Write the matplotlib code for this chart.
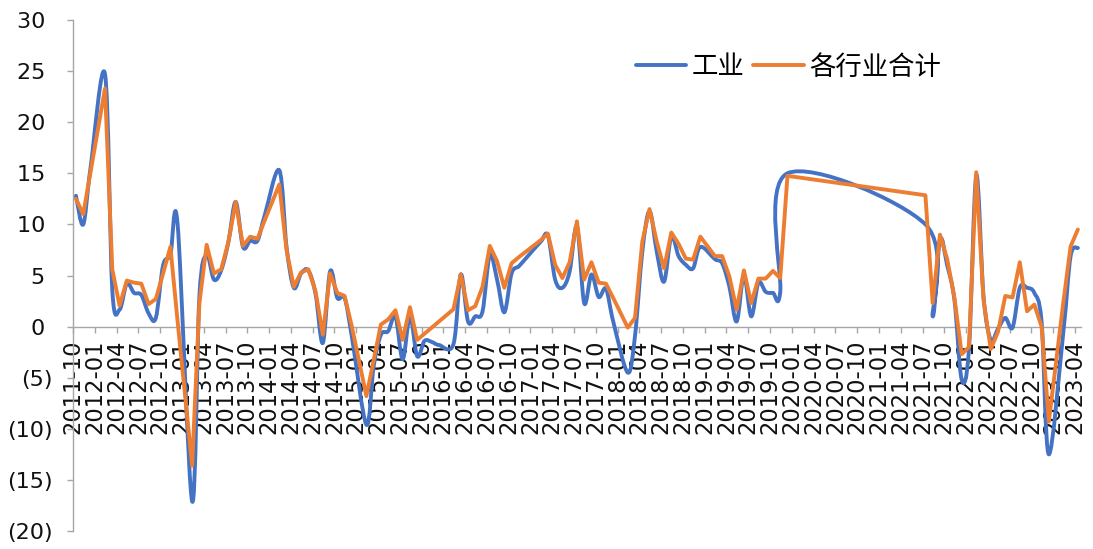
import numpy as np
import matplotlib
matplotlib.use("Agg")
import matplotlib.pyplot as plt
from matplotlib.path import Path
from matplotlib.patches import PathPatch
from matplotlib.lines import Line2D
from matplotlib.ticker import FixedLocator, FuncFormatter

# Reporting months (January is folded into February; 2020-01..2021-06 not reported)
months = [
    "2011-10", "2011-11", "2011-12", "2012-02", "2012-03", "2012-04", "2012-05", "2012-06",
    "2012-07", "2012-08", "2012-09", "2012-10", "2012-11", "2012-12", "2013-02", "2013-03",
    "2013-04", "2013-05", "2013-06", "2013-07", "2013-08", "2013-09", "2013-10", "2013-11",
    "2013-12", "2014-02", "2014-03", "2014-04", "2014-05", "2014-06", "2014-07", "2014-08",
    "2014-09", "2014-10", "2014-11", "2014-12", "2015-02", "2015-03", "2015-04", "2015-05",
    "2015-06", "2015-07", "2015-08", "2015-09", "2015-10", "2015-11", "2015-12", "2016-02",
    "2016-03", "2016-04", "2016-05", "2016-06", "2016-07", "2016-08", "2016-09", "2016-10",
    "2016-11", "2016-12", "2017-02", "2017-03", "2017-04", "2017-05", "2017-06", "2017-07",
    "2017-08", "2017-09", "2017-10", "2017-11", "2017-12", "2018-02", "2018-03", "2018-04",
    "2018-05", "2018-06", "2018-07", "2018-08", "2018-09", "2018-10", "2018-11", "2018-12",
    "2019-02", "2019-03", "2019-04", "2019-05", "2019-06", "2019-07", "2019-08", "2019-09",
    "2019-10", "2019-11", "2019-12", "2021-07", "2021-08", "2021-09", "2021-10", "2021-11",
    "2021-12", "2022-01", "2022-02", "2022-03", "2022-04", "2022-05", "2022-06", "2022-07",
    "2022-08", "2022-09", "2022-10", "2022-11", "2022-12", "2023-02", "2023-03", "2023-04",
]

industry = [
    12.8, 10.0, 15.5, 24.7, 3.6, 1.65, 4.2, 3.3,
    3.1, 1.3, 0.85, 6.0, 7.0, 10.0, -17.1, 3.0,
    7.0, 4.6, 5.5, 8.3, 12.2, 7.8, 8.4, 8.4,
    10.9, 15.3, 7.8, 3.8, 5.2, 5.5, 3.2, -1.6,
    5.4, 2.8, 2.8, -1.0, -9.6, -3.9, -0.8, -0.45,
    1.0, -3.2, 1.0, -2.9, -1.4, -1.5, -1.8, -1.7,
    5.1, 0.5, 1.0, 1.5, 7.0, 4.6, 1.4, 5.2,
    5.9, 6.7, 8.3, 8.9, 4.6, 3.8, 5.4, 9.8,
    2.3, 5.1, 2.9, 3.7, 0.5, -4.5, -0.9, 7.3,
    11.3, 7.3, 4.4, 8.8, 6.9, 6.05, 5.7, 7.8,
    6.6, 6.2, 3.9, 0.5, 5.0, 1.0, 4.3, 3.4,
    3.3, 3.35, 15.0, 10.0, 1.0, 8.5, 6.0, 2.6,
    -5.2, -2.2, 14.8, 3.0, -1.3, -0.2, 0.85, -0.1,
    3.8, 3.8, 3.3, 0.5, -12.5, -0.5, 6.9, 7.7,
]

all_sectors = [
    12.5, 11.0, 15.1, 23.3, 5.6, 2.05, 4.5, 4.3,
    4.2, 2.2, 2.7, 5.2, 7.8, 0.5, -13.6, 2.3,
    8.0, 5.2, 5.6, 8.3, 12.2, 7.9, 8.8, 8.6,
    10.4, 13.9, 7.5, 3.9, 5.3, 5.6, 3.45, -0.8,
    5.2, 3.3, 3.0, 0.0, -6.8, -3.3, 0.2, 0.7,
    1.6, -1.3, 1.9, -1.3, -0.7, -0.1, 0.5, 1.7,
    5.1, 1.6, 2.0, 3.9, 7.9, 6.4, 3.8, 6.2,
    6.8, 7.35, 8.45, 9.1, 6.05, 4.75, 6.3, 10.3,
    4.6, 6.3, 4.3, 4.2, 2.8, -0.1, 0.85, 8.3,
    11.5, 8.3, 5.7, 9.2, 8.1, 6.65, 6.55, 8.8,
    6.9, 6.9, 4.9, 1.65, 5.5, 2.3, 4.7, 4.7,
    5.45, 4.75, 14.75, 12.85, 2.3, 9.0, 6.6, 2.8,
    -2.7, -2.0, 15.1, 2.6, -2.2, -0.5, 3.0, 2.85,
    6.3, 1.5, 2.15, 0.0, -9.3, 2.4, 7.85, 9.5,
]

series_names = ["工业", "各行业合计"]
y_ticks = [-20, -15, -10, -5, 0, 5, 10, 15, 20, 25, 30]

BLUE = "#4472C4"
ORANGE = "#ED7D31"
AXIS_GREY = "#A6A6A6"


def month_index(label, start=(2011, 10)):
    y, m = map(int, label.split("-"))
    return (y - start[0]) * 12 + (m - start[1])


def smooth_path(x, y):
    """Cardinal (Catmull-Rom) Bezier curve through the points, spreadsheet style."""
    pts = np.column_stack([x, y]).astype(float)
    n = len(pts)
    verts = [pts[0]]
    codes = [Path.MOVETO]
    for i in range(n - 1):
        p0 = pts[i - 1] if i > 0 else pts[i]
        p1 = pts[i]
        p2 = pts[i + 1]
        p3 = pts[i + 2] if i + 2 < n else pts[i + 1]
        verts += [p1 + (p2 - p0) / 6.0, p2 - (p3 - p1) / 6.0, p2]
        codes += [Path.CURVE4] * 3
    return Path(verts, codes)


x = np.array([month_index(m) for m in months], dtype=float)

W, H = 1093, 549
fig = plt.figure(figsize=(W / 100, H / 100), dpi=100)
ax = fig.add_axes([73 / W, 18 / H, (1081 - 73) / W, (531 - 20) / H])

ax.set_xlim(-0.41, 138.43)
ax.set_ylim(-20, 30)

# Industry: smoothed line
ax.add_patch(PathPatch(smooth_path(x, industry), facecolor="none", edgecolor=BLUE,
                       lw=2.8, capstyle="round", joinstyle="round", zorder=3))
# All sectors: straight segments
ax.plot(x, all_sectors, color=ORANGE, lw=2.8, solid_joinstyle="round",
        solid_capstyle="round", zorder=4)

# Axes styling
for side in ("top", "right"):
    ax.spines[side].set_visible(False)
ax.spines["left"].set_color(AXIS_GREY)
ax.spines["left"].set_linewidth(1.0)
ax.spines["bottom"].set_position(("data", 0))
ax.spines["bottom"].set_color(AXIS_GREY)
ax.spines["bottom"].set_linewidth(1.0)

# x ticks every quarter
tick_idx = np.arange(0, 139, 3)
tick_labels = []
for k in tick_idx:
    yy = 2011 + (9 + k) // 12
    mm = (9 + k) % 12 + 1
    tick_labels.append(f"{yy}-{mm:02d}")
ax.xaxis.set_major_locator(FixedLocator(tick_idx - 0.4))
ax.set_xticklabels(tick_labels, rotation=90, fontsize=16.3, family="DejaVu Sans",
                   color="#111111")
ax.tick_params(axis="x", direction="out", length=4.3, width=1.0, color=AXIS_GREY, pad=5)

ax.yaxis.set_major_locator(FixedLocator(y_ticks))
ax.yaxis.set_major_formatter(FuncFormatter(
    lambda v, p: f"({abs(int(v))})" if v < 0 else f"{int(v)} "))
ax.tick_params(axis="y", direction="out", length=4.3, width=1.0, color=AXIS_GREY,
               pad=10.5, labelsize=16, labelcolor="#111111")

# Legend
handles = [Line2D([], [], color=BLUE, lw=2.8, solid_capstyle="round"),
           Line2D([], [], color=ORANGE, lw=2.8, solid_capstyle="round")]
ax.legend(handles, series_names, loc="center left", bbox_to_anchor=(636 / W, 1 - 67 / H),
          bbox_transform=fig.transFigure, ncol=2, frameon=False, borderpad=0,
          borderaxespad=0, handlelength=1.9, handletextpad=0.2, columnspacing=0.35,
          prop={"family": ["Noto Sans CJK SC", "DejaVu Sans"], "size": 19})

fig.savefig("out.png", dpi=100)
